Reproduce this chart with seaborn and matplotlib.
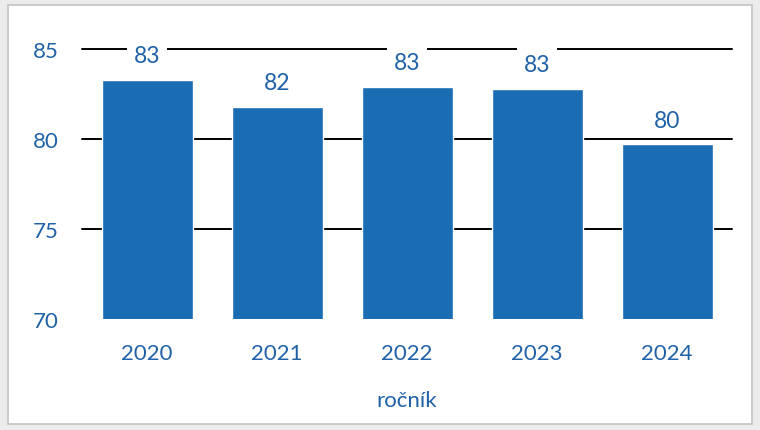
import pandas as pd
import matplotlib.pyplot as plt
import seaborn as sns
from matplotlib.patches import Rectangle

# Data
years = ["2020", "2021", "2022", "2023", "2024"]
values = [83.3, 81.8, 82.9, 82.8, 79.7]
labels = ["83", "82", "83", "83", "80"]

df = pd.DataFrame({"rocnik": years, "hodnota": values})

sns.set_theme(style="white")
plt.rcParams["font.family"] = ["Lato", "DejaVu Sans"]

blue = "#1a6cb3"
text_blue = "#1f62a8"

fig = plt.figure(figsize=(7.6, 4.31), dpi=100, facecolor="#ececec")

# white panel with light border
panel = Rectangle((8 / 760, 6 / 431), 744 / 760, 419 / 431, transform=fig.transFigure,
                  facecolor="white", edgecolor="#c4c4c4", linewidth=1.2, zorder=-5)
fig.patches.append(panel)

ax = fig.add_axes([82 / 760, 111 / 431, 650 / 760, 270 / 431])
ax.set_zorder(2)
ax.set_facecolor("none")

sns.barplot(data=df, x="rocnik", y="hodnota", color=blue, width=0.7,
            saturation=1, ax=ax, zorder=2)

ax.set_ylim(70, 85)
ax.set_yticks([70, 75, 80, 85])
for y in [75, 80, 85]:
    ax.axhline(y, color="black", linewidth=1.4, zorder=1, clip_on=False)

# popisky hodnot s bílým pozadím (přerušují mřížku)
for i, (v, lab) in enumerate(zip(values, labels)):
    ax.annotate(lab, (i, v), xytext=(0, 10), textcoords="offset points",
                ha="center", va="bottom", fontsize=16.5, color=text_blue,
                bbox=dict(boxstyle="square,pad=0.28", facecolor="white", edgecolor="none"),
                zorder=4)

for s in ax.spines.values():
    s.set_visible(False)
ax.tick_params(axis="both", length=0, labelsize=16, labelcolor=text_blue)
ax.tick_params(axis="y", pad=17)
ax.tick_params(axis="x", pad=17)
ax.set_ylabel("")
ax.set_xlabel("ročník", fontsize=16, color=text_blue, labelpad=20)

fig.savefig("out.png", dpi=100, facecolor=fig.get_facecolor())
